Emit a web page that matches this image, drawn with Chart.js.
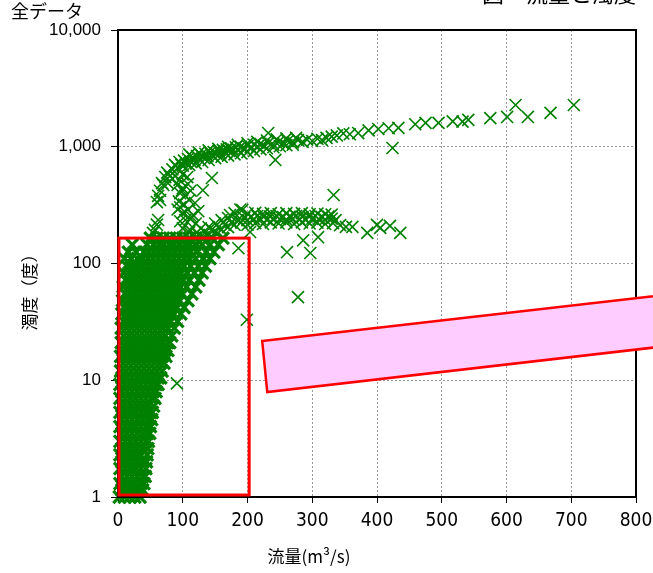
<!DOCTYPE html>
<html>
<head>
<meta charset="utf-8">
<script src="https://cdn.jsdelivr.net/npm/chart.js@4.4.1/dist/chart.umd.min.js"></script>
<style>
  html, body { margin: 0; padding: 0; background: #fff; }
</style>
</head>
<body>
<canvas id="chart" width="653" height="573"></canvas>
<script>
// 流量(m3/s) と 濁度(度) — 値は図から読み取ったもの
const xTickValues = [0, 100, 200, 300, 400, 500, 600, 700, 800];
const yTickValues = [1, 10, 100, 1000, 10000];

// 低流量域の密集帯: [濁度, [流量, ...]]
const cloudRows = [
  [1.0,  [2, 10, 18, 26, 34]],
  [1.15, [6, 14, 22, 30, 38]],
  [1.3,  [3, 11, 19, 27, 35, 40]],
  [1.5,  [6, 14, 22, 30, 38, 42]],
  [1.75, [3, 11, 19, 27, 35, 43]],
  [2.0,  [6, 14, 22, 30, 38, 44]],
  [2.3,  [3, 11, 19, 27, 35, 45]],
  [2.6,  [6, 14, 22, 30, 38, 46]],
  [3.0,  [3, 11, 19, 27, 35, 43, 47]],
  [3.5,  [6, 14, 22, 30, 38, 46, 49]],
  [4.0,  [3, 11, 19, 27, 35, 43, 50]],
  [4.6,  [6, 14, 22, 30, 38, 46, 52]],
  [5.3,  [3, 11, 19, 27, 35, 43, 51, 53]],
  [6.0,  [6, 14, 22, 30, 38, 46, 55]],
  [7.0,  [3, 11, 19, 27, 35, 43, 51, 57]],
  [8.0,  [6, 14, 22, 30, 38, 46, 54, 59]],
  [9.2,  [3, 11, 19, 27, 35, 43, 51, 59, 62]],
  [10.5, [6, 14, 22, 30, 38, 46, 54, 62, 66]],
  [12,   [4, 12, 20, 28, 36, 44, 52, 60, 68]],
  [14,   [8, 16, 24, 32, 40, 48, 56, 64, 71]],
  [16,   [4, 12, 20, 28, 36, 44, 52, 60, 68, 74]],
  [18,   [8, 16, 24, 32, 40, 48, 56, 64, 72, 77]],
  [21,   [5, 13, 21, 29, 37, 45, 53, 61, 69, 77, 80]],
  [24,   [9, 17, 25, 33, 41, 49, 57, 65, 73, 83]],
  [28,   [5, 13, 21, 29, 37, 45, 53, 61, 69, 77, 87]],
  [32,   [9, 17, 25, 33, 41, 49, 57, 65, 73, 81, 92]],
  [37,   [6, 14, 22, 30, 38, 46, 54, 62, 70, 78, 86, 97]],
  [42,   [10, 18, 26, 34, 42, 50, 58, 66, 74, 82, 90, 102]],
  [48,   [7, 15, 23, 31, 39, 47, 55, 63, 71, 79, 87, 95, 108]],
  [55,   [11, 19, 27, 35, 43, 51, 59, 67, 75, 83, 91, 99, 114]],
  [63,   [8, 16, 24, 32, 40, 48, 56, 64, 72, 80, 88, 96, 106, 120]],
  [72,   [12, 20, 28, 36, 44, 52, 60, 68, 76, 84, 92, 100, 110, 125]],
  [83,   [9, 17, 25, 33, 41, 49, 57, 65, 73, 81, 89, 97, 107, 118, 130]],
  [95,   [14, 22, 30, 38, 46, 54, 62, 70, 78, 86, 94, 102, 112, 124, 135]],
  [110,  [10, 20, 30, 38, 46, 54, 62, 70, 78, 86, 94, 102, 110, 120, 132, 142]],
  [125,  [16, 28, 40, 48, 56, 64, 72, 80, 88, 96, 104, 112, 122, 136, 148]],
  [145,  [22, 45, 55, 63, 71, 79, 87, 95, 103, 111, 119, 130, 142, 155]],
  [165,  [50, 60, 70, 80, 90, 100, 110, 120, 132, 145, 162]]
];

// 左の腕 (流量 55〜80)
const leftArm = [
  [54, 183], [57, 194], [60, 215], [62, 236], [60, 336], [65, 350], [62, 380],
  [65, 420], [68, 488], [73, 550], [77, 488], [70, 470], [80, 560], [76, 600]
];

// 中央の腕 (流量 90〜145)
const middleArm = [
  [88, 560], [95, 520], [100, 580], [107, 550], [92, 470], [100, 440], [108, 480],
  [96, 400], [104, 380], [112, 420], [99, 424], [94, 340], [102, 320], [110, 350],
  [119, 330], [96, 303], [92, 290], [100, 270], [108, 290], [116, 260], [124, 280],
  [96, 230], [104, 236], [112, 240], [120, 220], [128, 200], [100, 200], [110, 185],
  [114, 250], [111, 194], [122, 185], [131, 424], [145, 540]
];

// 上側の帯 (濁度 700〜2300)
const upperBranch = [
  [84, 640], [88, 700], [92, 660], [95, 740], [98, 700], [102, 760], [105, 720],
  [108, 790], [112, 750], [115, 810], [118, 770], [122, 830], [125, 790], [128, 850],
  [132, 810], [135, 870], [138, 830], [142, 890], [145, 850], [148, 900], [152, 870],
  [155, 920], [158, 880], [162, 940], [165, 900], [168, 950], [172, 920], [175, 970],
  [178, 930], [182, 990], [185, 950], [190, 1000], [195, 970], [200, 1020], [205, 990],
  [210, 1040], [215, 1000], [220, 1060], [225, 1020], [232, 1080], [240, 1040],
  [248, 1100], [255, 1070], [262, 1120], [270, 1090], [278, 1140], [285, 1100],
  [292, 1150], [300, 1120], [308, 1170], [315, 1140], [322, 1190], [330, 1220],
  [338, 1250], [348, 1300], [358, 1280], [371, 1310], [387, 1380], [402, 1420],
  [418, 1440], [433, 1450], [459, 1560], [475, 1600], [495, 1600], [517, 1650],
  [532, 1640], [541, 1700], [575, 1760], [601, 1800], [614, 2280], [633, 1800],
  [668, 1950], [704, 2280],
  [100, 690], [110, 700], [120, 720], [130, 740], [140, 770], [150, 800], [160, 820],
  [170, 840], [180, 860], [190, 880], [200, 900], [210, 920], [220, 950], [230, 970],
  [240, 990], [250, 1010], [260, 1030], [270, 1040],
  [110, 860], [125, 890], [140, 930], [155, 960], [170, 1000], [185, 1040],
  [200, 1070], [215, 1100], [230, 1130], [245, 1160], [260, 1180], [275, 1190]
];

// 下側の帯 (濁度 150〜300)
const lowerBranch = [
  [120, 150], [125, 175], [130, 165], [135, 185], [140, 175], [145, 195], [150, 185],
  [155, 205], [160, 195], [165, 215], [170, 205], [173, 260], [175, 225], [180, 215],
  [180, 270], [185, 235], [189, 290], [190, 225], [192, 287], [195, 245], [200, 235],
  [205, 250], [210, 240], [215, 255], [220, 240], [225, 250], [230, 238], [235, 252],
  [240, 242], [245, 255], [250, 240], [255, 250], [260, 238], [265, 252], [270, 242],
  [275, 255], [280, 240], [285, 250], [290, 238], [295, 252], [300, 242], [305, 255],
  [310, 240], [315, 250], [320, 238], [325, 252], [330, 242], [336, 235],
  [140, 205], [150, 220], [160, 235], [170, 245], [200, 268], [212, 272], [224, 266],
  [236, 270], [248, 264], [260, 270], [272, 266], [284, 270], [296, 264], [308, 268],
  [320, 264], [330, 262], [200, 215], [212, 222], [224, 218], [236, 225], [248, 220],
  [260, 225], [272, 218], [284, 225], [296, 220], [308, 224], [320, 218], [332, 222]
];

// 単独の点
const scattered = [
  [186, 135], [204, 186], [261, 125], [278, 51.5], [286, 158], [297, 123], [309, 168],
  [333, 386], [343, 213], [352, 206], [362, 206], [385, 183], [400, 214], [405, 202],
  [420, 210], [436, 183], [424, 976], [232, 1312], [243, 771], [199, 33], [91, 9.4]
];

// 注記の枠 (データ座標)
const boxFlow = [1.5, 202.6];
const boxTurb = [1.04, 165];
const bandCorners = [[222.7, 21.7], [860, 55.2], [860, 20.0], [230.5, 7.93]];

const cloudPoints = [];
cloudRows.forEach(([turb, flows]) => flows.forEach(q => cloudPoints.push({ x: q, y: turb })));
const otherPoints = [];
[leftArm, middleArm, upperBranch, lowerBranch, scattered].forEach(list =>
  list.forEach(([q, turb]) => otherPoints.push({ x: q, y: turb })));

const annotations = {
  id: 'annotations',
  afterDatasetsDraw(chart) {
    const { ctx, chartArea: a, scales: { x, y } } = chart;
    ctx.save();
    // 枠線
    ctx.strokeStyle = '#000';
    ctx.lineWidth = 2;
    ctx.strokeRect(a.left, a.top, a.right - a.left, a.bottom - a.top);

    // 赤い四角
    ctx.strokeStyle = '#ff0000';
    ctx.lineWidth = 3;
    const l = x.getPixelForValue(boxFlow[0]), r = x.getPixelForValue(boxFlow[1]);
    const t = y.getPixelForValue(boxTurb[1]), b = y.getPixelForValue(boxTurb[0]);
    ctx.strokeRect(l, t, r - l, b - t);

    // ピンクの帯
    ctx.beginPath();
    bandCorners.forEach(([q, turb], i) => {
      const px = x.getPixelForValue(q), py = y.getPixelForValue(turb);
      if (i === 0) ctx.moveTo(px, py); else ctx.lineTo(px, py);
    });
    ctx.closePath();
    ctx.fillStyle = '#ffccff';
    ctx.fill();
    ctx.lineWidth = 2.5;
    ctx.stroke();
    ctx.restore();
  },
  afterDraw(chart) {
    const { ctx } = chart;
    ctx.save();
    ctx.fillStyle = '#000';
    ctx.font = '18px "Noto Sans CJK JP"';
    ctx.textBaseline = 'middle';
    ctx.textAlign = 'left';
    ctx.fillText('全データ', 11, 11);

    ctx.font = '22px "Noto Sans CJK JP"';
    ctx.textBaseline = 'alphabetic';
    ctx.fillText('図　流量と濁度', 482, 2);

    ctx.font = '17px "Noto Sans CJK JP"';
    ctx.textAlign = 'center';
    ctx.textBaseline = 'middle';
    ctx.fillText('流量(m³/s)', 309, 557);

    ctx.translate(30, 288);
    ctx.rotate(-Math.PI / 2);
    ctx.fillText('濁度（度）', 0, 0);
    ctx.restore();
  }
};

const markerStyle = {
  pointStyle: 'crossRot',
  pointRadius: 8.5,
  pointHoverRadius: 8.5,
  borderColor: '#008000',
  backgroundColor: '#008000',
  clip: 8
};

new Chart(document.getElementById('chart'), {
  type: 'scatter',
  data: {
    datasets: [
      { ...markerStyle, data: cloudPoints, pointBorderWidth: 3.2 },
      { ...markerStyle, data: otherPoints, pointBorderWidth: 1.6 }
    ]
  },
  options: {
    responsive: false,
    animation: false,
    events: [],
    layout: { padding: { left: 0, top: 30, right: 17, bottom: 0 } },
    plugins: { legend: { display: false }, tooltip: { enabled: false } },
    scales: {
      x: {
        type: 'linear',
        min: 0,
        max: 800,
        afterBuildTicks: s => { s.ticks = xTickValues.map(v => ({ value: v })); },
        afterFit: s => { s.height = 76; s.paddingLeft = 0; s.paddingRight = 0; },
        ticks: {
          color: '#000',
          padding: 7,
          maxRotation: 0,
          font: { family: '"Liberation Sans Narrow", "DejaVu Sans Condensed", "Liberation Sans"', size: 19 }
        },
        grid: { color: '#9a9a9a', lineWidth: 1, tickColor: '#000', tickLength: 6 },
        border: { color: '#000', width: 2, dash: [2, 2] }
      },
      y: {
        type: 'logarithmic',
        min: 1,
        max: 10000,
        afterBuildTicks: s => { s.ticks = yTickValues.map(v => ({ value: v })); },
        afterFit: s => { s.width = 118; s.paddingTop = 0; s.paddingBottom = 0; },
        ticks: {
          color: '#000',
          padding: 10,
          font: { family: '"Liberation Sans"', size: 17 },
          callback: v => v.toLocaleString('en-US')
        },
        grid: { color: '#9a9a9a', lineWidth: 1, tickColor: '#000', tickLength: 7 },
        border: { color: '#000', width: 2, dash: [2, 2] }
      }
    }
  },
  plugins: [annotations]
});
</script>
</body>
</html>
